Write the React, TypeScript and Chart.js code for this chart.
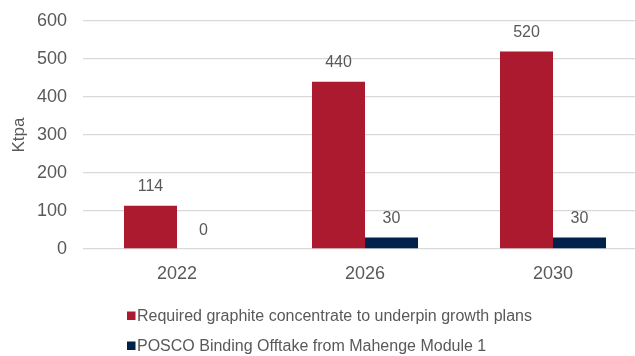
import React, { useEffect, useRef } from "react";
import { Chart, registerables } from "chart.js";

Chart.register(...registerables);

const categories = ["2022", "2026", "2030"];
const requiredValues = [114, 440, 520];
const poscoValues = [0, 30, 30];
const seriesNames = [
  "Required graphite concentrate to underpin growth plans",
  "POSCO Binding Offtake from Mahenge Module 1",
];
const yTicks = [0, 100, 200, 300, 400, 500, 600];

const RED = "#AB1A2E";
const NAVY = "#00214A";
const TEXT = "#595959";
const FONT = "'Liberation Sans', Arial, sans-serif";

const dataLabelPlugin = {
  id: "dataLabels",
  afterDatasetsDraw(chart: any) {
    const ctx = chart.ctx;
    ctx.save();
    ctx.fillStyle = TEXT;
    ctx.font = `16px ${FONT}`;
    ctx.textAlign = "center";
    ctx.textBaseline = "alphabetic";
    chart.data.datasets.forEach((ds: any, di: number) => {
      const meta = chart.getDatasetMeta(di);
      meta.data.forEach((bar: any, i: number) => {
        ctx.fillText(String(ds.data[i]), bar.x, bar.y - 14.5);
      });
    });
    ctx.restore();
  },
};

const legendPlugin = {
  id: "customLegend",
  afterDraw(chart: any) {
    const ctx = chart.ctx;
    ctx.save();
    ctx.font = `16px ${FONT}`;
    ctx.textBaseline = "alphabetic";
    ctx.textAlign = "left";
    chart.data.datasets.forEach((ds: any, di: number) => {
      const y = 311.5 + di * 30;
      ctx.fillStyle = ds.backgroundColor;
      ctx.fillRect(127, y, 8.5, 8.5);
      ctx.fillStyle = TEXT;
      ctx.fillText(ds.label, 137, y + 9.5);
    });
    ctx.restore();
  },
};

export default function App() {
  const ref = useRef<HTMLCanvasElement | null>(null);
  useEffect(() => {
    if (!ref.current) return;
    const chart = new Chart(ref.current, {
      type: "bar",
      data: {
        labels: categories,
        datasets: [
          {
            label: seriesNames[0],
            data: requiredValues,
            backgroundColor: RED,
            borderWidth: 0,
            categoryPercentage: 0.564,
            barPercentage: 1,
          },
          {
            label: seriesNames[1],
            data: poscoValues,
            backgroundColor: NAVY,
            borderWidth: 0,
            categoryPercentage: 0.564,
            barPercentage: 1,
          },
        ],
      },
      options: {
        responsive: false,
        animation: false,
        layout: { padding: { top: 21, right: 3, bottom: 0, left: 0 } },
        plugins: { legend: { display: false }, tooltip: { enabled: false } },
        scales: {
          x: {
            grid: {
              display: false,
              drawOnChartArea: false,
              drawTicks: false,
            },
            border: { display: false },
            ticks: {
              color: TEXT,
              font: { family: FONT, size: 18 },
              padding: 14,
            },
            afterFit(scale: any) {
              scale.height = 107;
              scale.paddingLeft = 0;
              scale.paddingRight = 0;
            },
          },
          y: {
            min: 0,
            max: 600,
            afterBuildTicks(scale: any) {
              scale.ticks = yTicks.map((v) => ({ value: v }));
            },
            grid: {
              color: "#D9D9D9",
              lineWidth: 1.3,
              drawTicks: false,
            },
            border: { display: false },
            ticks: {
              color: TEXT,
              font: { family: FONT, size: 18 },
              padding: 16,
            },
            title: {
              display: true,
              text: "Ktpa",
              color: TEXT,
              font: { family: FONT, size: 17 },
              padding: { top: 9, bottom: 0 },
            },
            afterFit(scale: any) {
              scale.width = 83;
              scale.paddingTop = 0;
              scale.paddingBottom = 0;
            },
          },
        },
      },
      plugins: [dataLabelPlugin, legendPlugin],
    });
    return () => chart.destroy();
  }, []);
  return (
    <div
      style={{
        position: "fixed",
        left: 0,
        top: 0,
        width: 635,
        height: 356,
        overflow: "hidden",
        background: "#fff",
      }}
    >
      <canvas ref={ref} width={650} height={356} />
    </div>
  );
}
